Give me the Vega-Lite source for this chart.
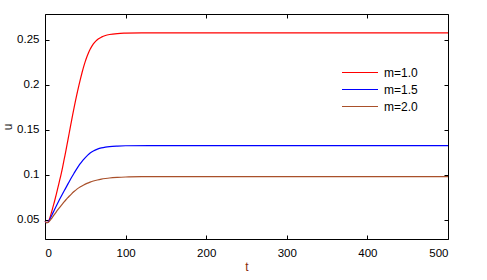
{
  "$schema": "https://vega.github.io/schema/vega-lite/v6.json",
  "width": 403,
  "height": 225,
  "autosize": {"type": "none"},
  "padding": {"left": 45, "top": 14, "right": 39, "bottom": 41},
  "background": "white",
  "config": {
    "font": "Liberation Sans",
    "view": {"stroke": null},
    "axis": {
      "grid": false,
      "domainColor": "#000",
      "domainWidth": 1,
      "tickColor": "#000",
      "tickSize": -4,
      "labelFont": "Liberation Sans",
      "labelFontSize": 11.5,
      "labelColor": "#000",
      "titleFont": "Liberation Sans",
      "titleFontSize": 12,
      "titleFontWeight": "normal"
    }
  },
  "data": {
    "values": [
      {"t": 0, "u": 0.048, "m": "m=1.0"},
      {"t": 2, "u": 0.0468, "m": "m=1.0"},
      {"t": 4, "u": 0.0475, "m": "m=1.0"},
      {"t": 6, "u": 0.052, "m": "m=1.0"},
      {"t": 8, "u": 0.058, "m": "m=1.0"},
      {"t": 10, "u": 0.0645, "m": "m=1.0"},
      {"t": 12, "u": 0.071, "m": "m=1.0"},
      {"t": 14, "u": 0.078, "m": "m=1.0"},
      {"t": 16, "u": 0.0855, "m": "m=1.0"},
      {"t": 18, "u": 0.093, "m": "m=1.0"},
      {"t": 20, "u": 0.1005, "m": "m=1.0"},
      {"t": 22, "u": 0.109, "m": "m=1.0"},
      {"t": 24, "u": 0.118, "m": "m=1.0"},
      {"t": 26, "u": 0.127, "m": "m=1.0"},
      {"t": 28, "u": 0.1365, "m": "m=1.0"},
      {"t": 30, "u": 0.146, "m": "m=1.0"},
      {"t": 32, "u": 0.1555, "m": "m=1.0"},
      {"t": 34, "u": 0.165, "m": "m=1.0"},
      {"t": 36, "u": 0.174, "m": "m=1.0"},
      {"t": 38, "u": 0.1828, "m": "m=1.0"},
      {"t": 40, "u": 0.191, "m": "m=1.0"},
      {"t": 42, "u": 0.199, "m": "m=1.0"},
      {"t": 44, "u": 0.2065, "m": "m=1.0"},
      {"t": 46, "u": 0.2135, "m": "m=1.0"},
      {"t": 48, "u": 0.22, "m": "m=1.0"},
      {"t": 50, "u": 0.2258, "m": "m=1.0"},
      {"t": 52, "u": 0.231, "m": "m=1.0"},
      {"t": 54, "u": 0.2355, "m": "m=1.0"},
      {"t": 56, "u": 0.2393, "m": "m=1.0"},
      {"t": 58, "u": 0.2425, "m": "m=1.0"},
      {"t": 60, "u": 0.2452, "m": "m=1.0"},
      {"t": 63, "u": 0.2483, "m": "m=1.0"},
      {"t": 66, "u": 0.2507, "m": "m=1.0"},
      {"t": 70, "u": 0.2528, "m": "m=1.0"},
      {"t": 75, "u": 0.2546, "m": "m=1.0"},
      {"t": 80, "u": 0.2557, "m": "m=1.0"},
      {"t": 90, "u": 0.2568, "m": "m=1.0"},
      {"t": 100, "u": 0.2572, "m": "m=1.0"},
      {"t": 120, "u": 0.2575, "m": "m=1.0"},
      {"t": 500, "u": 0.2575, "m": "m=1.0"},
      {"t": 0, "u": 0.048, "m": "m=1.5"},
      {"t": 2, "u": 0.0468, "m": "m=1.5"},
      {"t": 4, "u": 0.0475, "m": "m=1.5"},
      {"t": 6, "u": 0.0505, "m": "m=1.5"},
      {"t": 8, "u": 0.054, "m": "m=1.5"},
      {"t": 10, "u": 0.0578, "m": "m=1.5"},
      {"t": 12, "u": 0.0615, "m": "m=1.5"},
      {"t": 14, "u": 0.0652, "m": "m=1.5"},
      {"t": 16, "u": 0.0688, "m": "m=1.5"},
      {"t": 18, "u": 0.0723, "m": "m=1.5"},
      {"t": 20, "u": 0.0757, "m": "m=1.5"},
      {"t": 22, "u": 0.079, "m": "m=1.5"},
      {"t": 24, "u": 0.0823, "m": "m=1.5"},
      {"t": 26, "u": 0.0856, "m": "m=1.5"},
      {"t": 28, "u": 0.0889, "m": "m=1.5"},
      {"t": 30, "u": 0.0922, "m": "m=1.5"},
      {"t": 32, "u": 0.0954, "m": "m=1.5"},
      {"t": 34, "u": 0.0985, "m": "m=1.5"},
      {"t": 36, "u": 0.1015, "m": "m=1.5"},
      {"t": 38, "u": 0.1045, "m": "m=1.5"},
      {"t": 40, "u": 0.1073, "m": "m=1.5"},
      {"t": 42, "u": 0.11, "m": "m=1.5"},
      {"t": 44, "u": 0.1125, "m": "m=1.5"},
      {"t": 46, "u": 0.1148, "m": "m=1.5"},
      {"t": 48, "u": 0.117, "m": "m=1.5"},
      {"t": 50, "u": 0.119, "m": "m=1.5"},
      {"t": 53, "u": 0.1217, "m": "m=1.5"},
      {"t": 56, "u": 0.124, "m": "m=1.5"},
      {"t": 60, "u": 0.1263, "m": "m=1.5"},
      {"t": 65, "u": 0.1283, "m": "m=1.5"},
      {"t": 70, "u": 0.1297, "m": "m=1.5"},
      {"t": 75, "u": 0.1306, "m": "m=1.5"},
      {"t": 80, "u": 0.1312, "m": "m=1.5"},
      {"t": 90, "u": 0.1318, "m": "m=1.5"},
      {"t": 100, "u": 0.1321, "m": "m=1.5"},
      {"t": 130, "u": 0.1322, "m": "m=1.5"},
      {"t": 500, "u": 0.1322, "m": "m=1.5"},
      {"t": 0, "u": 0.048, "m": "m=2.0"},
      {"t": 2, "u": 0.0468, "m": "m=2.0"},
      {"t": 4, "u": 0.047, "m": "m=2.0"},
      {"t": 6, "u": 0.0488, "m": "m=2.0"},
      {"t": 8, "u": 0.0512, "m": "m=2.0"},
      {"t": 10, "u": 0.0537, "m": "m=2.0"},
      {"t": 12, "u": 0.0562, "m": "m=2.0"},
      {"t": 14, "u": 0.0587, "m": "m=2.0"},
      {"t": 16, "u": 0.0611, "m": "m=2.0"},
      {"t": 18, "u": 0.0634, "m": "m=2.0"},
      {"t": 20, "u": 0.0656, "m": "m=2.0"},
      {"t": 22, "u": 0.0678, "m": "m=2.0"},
      {"t": 24, "u": 0.07, "m": "m=2.0"},
      {"t": 26, "u": 0.0721, "m": "m=2.0"},
      {"t": 28, "u": 0.0741, "m": "m=2.0"},
      {"t": 30, "u": 0.076, "m": "m=2.0"},
      {"t": 33, "u": 0.0787, "m": "m=2.0"},
      {"t": 36, "u": 0.0812, "m": "m=2.0"},
      {"t": 40, "u": 0.0842, "m": "m=2.0"},
      {"t": 44, "u": 0.0866, "m": "m=2.0"},
      {"t": 48, "u": 0.0886, "m": "m=2.0"},
      {"t": 52, "u": 0.0903, "m": "m=2.0"},
      {"t": 56, "u": 0.0917, "m": "m=2.0"},
      {"t": 60, "u": 0.0929, "m": "m=2.0"},
      {"t": 65, "u": 0.0941, "m": "m=2.0"},
      {"t": 70, "u": 0.095, "m": "m=2.0"},
      {"t": 75, "u": 0.0957, "m": "m=2.0"},
      {"t": 80, "u": 0.0963, "m": "m=2.0"},
      {"t": 90, "u": 0.097, "m": "m=2.0"},
      {"t": 100, "u": 0.0974, "m": "m=2.0"},
      {"t": 120, "u": 0.0977, "m": "m=2.0"},
      {"t": 150, "u": 0.0978, "m": "m=2.0"},
      {"t": 500, "u": 0.0978, "m": "m=2.0"}
    ]
  },
  "layer": [
    {
      "mark": {"type": "line", "strokeWidth": 1.2, "interpolate": "monotone"},
      "encoding": {
        "x": {"field": "t", "type": "quantitative",
          "scale": {"domain": [0, 500], "nice": false},
          "axis": {"orient": "bottom", "values": [0, 100, 200, 300, 400, 500], "labelPadding": 12, "title": "t", "titleColor": "#8b2a0a", "titlePadding": 3}},
        "y": {"field": "u", "type": "quantitative",
          "scale": {"domain": [0.0285, 0.2785], "nice": false, "zero": false},
          "axis": {"orient": "left", "values": [0.05, 0.1, 0.15, 0.2, 0.25], "format": ".2~f", "labelPadding": 10, "title": "u", "titleColor": "#222", "titlePadding": 2}},
        "color": {"field": "m", "type": "nominal",
          "scale": {"domain": ["m=1.0", "m=1.5", "m=2.0"], "range": ["#ff0000", "#0000ff", "#a9502a"]},
          "legend": {"title": null, "orient": "none", "legendX": 296, "legendY": 50,
            "symbolType": "stroke", "symbolSize": 1296, "symbolStrokeWidth": 1.2,
            "clipHeight": 17, "rowPadding": 0, "padding": 0, "labelOffset": 5,
            "labelFont": "Liberation Sans", "labelFontSize": 12, "labelColor": "#000"}}
      }
    },
    {
      "mark": {"type": "line", "opacity": 0},
      "encoding": {
        "x": {"field": "t", "type": "quantitative",
          "axis": {"orient": "top", "values": [0, 100, 200, 300, 400, 500], "labels": false, "title": null}},
        "y": {"field": "u", "type": "quantitative",
          "axis": {"orient": "right", "values": [0.05, 0.1, 0.15, 0.2, 0.25], "labels": false, "title": null}},
        "detail": {"field": "m"}
      }
    }
  ],
  "resolve": {"axis": {"x": "independent", "y": "independent"}}
}
